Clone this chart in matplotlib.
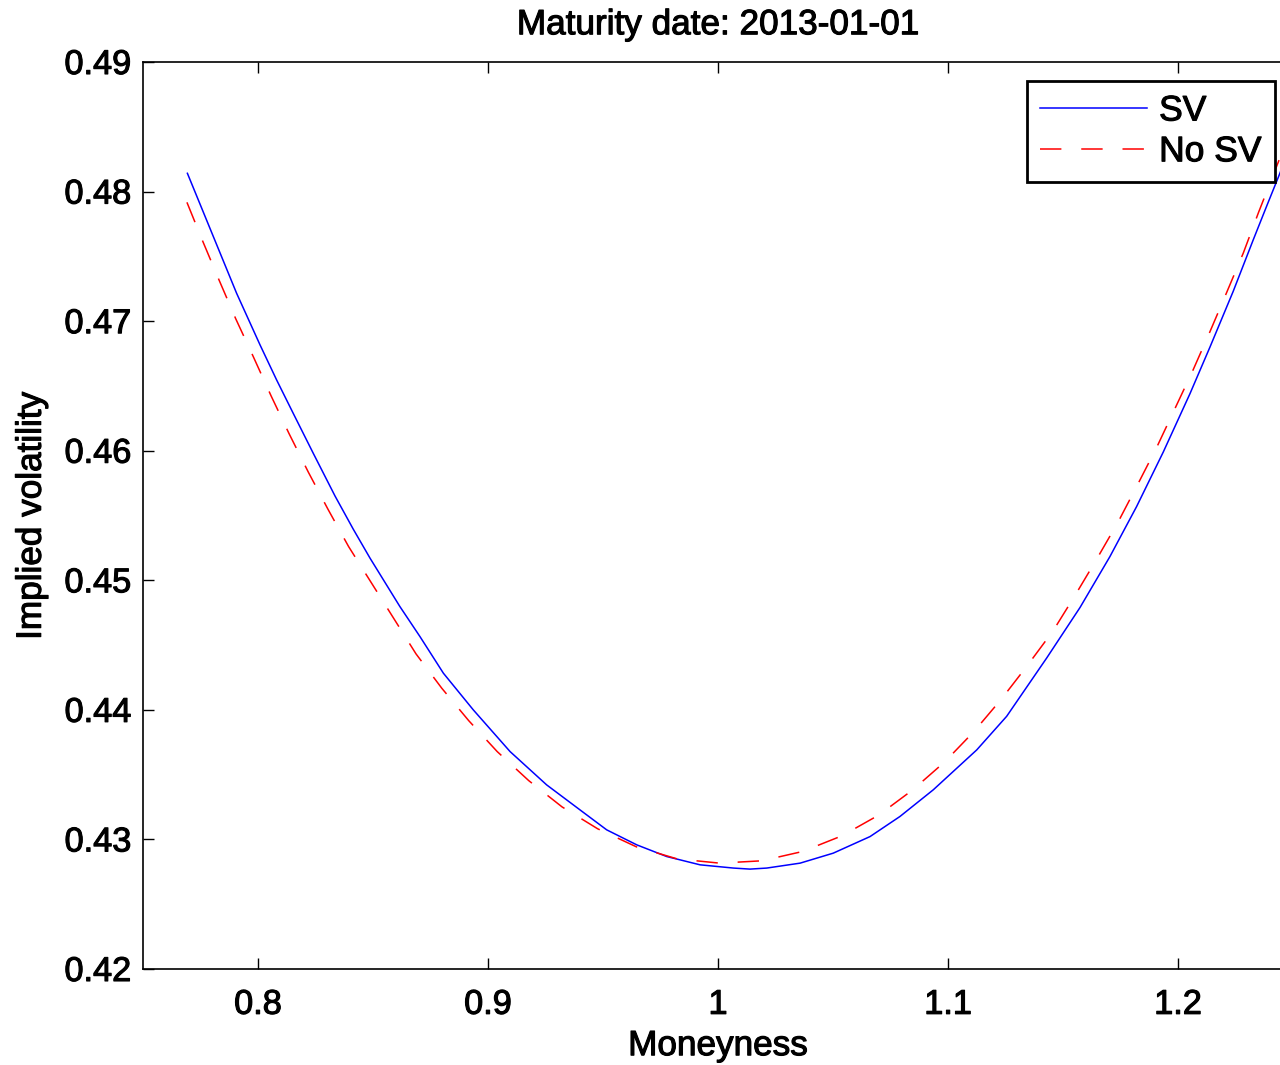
import matplotlib
matplotlib.use("Agg")
import matplotlib.pyplot as plt
import matplotlib.patheffects as pe

# values
sv_x = [0.7693, 0.7806, 0.7907, 0.8009, 0.8081, 0.8153, 0.8240, 0.8335, 0.8414, 0.8487,
        0.8617, 0.8704, 0.8806, 0.8936, 0.9096, 0.9255, 0.9400, 0.9516, 0.9647, 0.9777,
        0.9922, 1.0067, 1.0139, 1.0212, 1.0357, 1.0501, 1.0661, 1.0791, 1.0936, 1.1125,
        1.1255, 1.1429, 1.1574, 1.1704, 1.1820, 1.1936, 1.2052, 1.2139, 1.2240, 1.2327,
        1.2386, 1.2436, 1.2500]
sv_y = [0.48141, 0.47652, 0.47215, 0.46816, 0.46546, 0.46289, 0.45981, 0.45650, 0.45395, 0.45171,
        0.44797, 0.44566, 0.44283, 0.44000, 0.43678, 0.43421, 0.43228, 0.43074, 0.42958, 0.42868,
        0.42804, 0.42779, 0.42771, 0.42779, 0.42817, 0.42894, 0.43022, 0.43177, 0.43383, 0.43691,
        0.43950, 0.44400, 0.44790, 0.45183, 0.45569, 0.45990, 0.46440, 0.46800, 0.47230, 0.47627,
        0.47890, 0.48110, 0.48400]

nosv_x = [0.7691, 0.7758, 0.7830, 0.7903, 0.7980, 0.8057, 0.8135, 0.8219, 0.8304, 0.8394,
          0.8687, 0.8799, 0.8916, 0.9040, 0.9177, 0.9322, 0.9477, 0.9645, 0.9822, 1.0007,
          1.0190, 1.0368, 1.0539, 1.0699, 1.0847, 1.0986, 1.1113, 1.1233, 1.1345, 1.1457,
          1.1553, 1.1647, 1.1740, 1.1826, 1.1909, 1.1988, 1.2065, 1.2139, 1.2212, 1.2284,
          1.2351, 1.2416, 1.2500]
nosv_y = [0.47917, 0.47624, 0.47320, 0.47019, 0.46724, 0.46423, 0.46132, 0.45834, 0.45549, 0.45260,
          0.44432, 0.44167, 0.43917, 0.43678, 0.43454, 0.43251, 0.43082, 0.42943, 0.42850, 0.42817,
          0.42835, 0.42907, 0.43028, 0.43188, 0.43383, 0.43599, 0.43833, 0.44085, 0.44342, 0.44610,
          0.44885, 0.45165, 0.45451, 0.45744, 0.46032, 0.46330, 0.46621, 0.46919, 0.47223, 0.47526,
          0.47843, 0.48136, 0.48520]

xticks = [0.8, 0.9, 1.0, 1.1, 1.2]
xtick_labels = ["0.8", "0.9", "1", "1.1", "1.2"]
yticks = [0.42, 0.43, 0.44, 0.45, 0.46, 0.47, 0.48, 0.49]

plt.rcParams['font.family'] = ['Liberation Sans', 'DejaVu Sans']
heavy = [pe.withStroke(linewidth=0.8, foreground='black')]

fig = plt.figure(figsize=(12.8, 10.65), dpi=100)
# axes runs a bit past the right edge of the figure, like the cropped original
ax = fig.add_axes([143 / 1280, 1 - 969 / 1065, 1150 / 1280, 907 / 1065])

ax.plot(sv_x, sv_y, color='blue', lw=1.1, label='SV')
ax.plot(nosv_x, nosv_y, color='red', lw=1.1, dashes=(14, 13), label='No SV')

ax.set_xlim(0.75, 1.25)
ax.set_ylim(0.42, 0.49)
ax.set_xticks(xticks)
ax.set_xticklabels(xtick_labels)
ax.set_yticks(yticks)
ax.set_yticklabels(["%.2f" % v for v in yticks])
ax.tick_params(direction='in', length=8, width=1, labelsize=24.7, top=True, right=True)
ax.tick_params(axis='x', pad=15)
ax.tick_params(axis='y', pad=8.5)
for lab in ax.get_xticklabels() + ax.get_yticklabels():
    lab.set_path_effects(heavy)
for s in ax.spines.values():
    s.set_linewidth(1.2)

ax.set_xlabel('Moneyness', fontsize=25.3, labelpad=6, path_effects=heavy)
ax.set_ylabel('Implied volatility', fontsize=25.3, labelpad=12, path_effects=heavy)
ax.set_title('Maturity date: 2013-01-01', fontsize=25.3, pad=20, path_effects=heavy)

leg = ax.legend(loc='upper left', bbox_to_anchor=((1027 - 143) / 1150, 1 - (81 - 62) / 907),
                fontsize=25.5, frameon=True, fancybox=False, edgecolor='black',
                borderpad=0.38, handlelength=3.0, handletextpad=0.35, labelspacing=0.22,
                borderaxespad=0)
leg.get_frame().set_linewidth(2)
leg.get_frame().set_alpha(1)
for t in leg.get_texts():
    t.set_path_effects(heavy)

fig.savefig('out.png', dpi=100)
